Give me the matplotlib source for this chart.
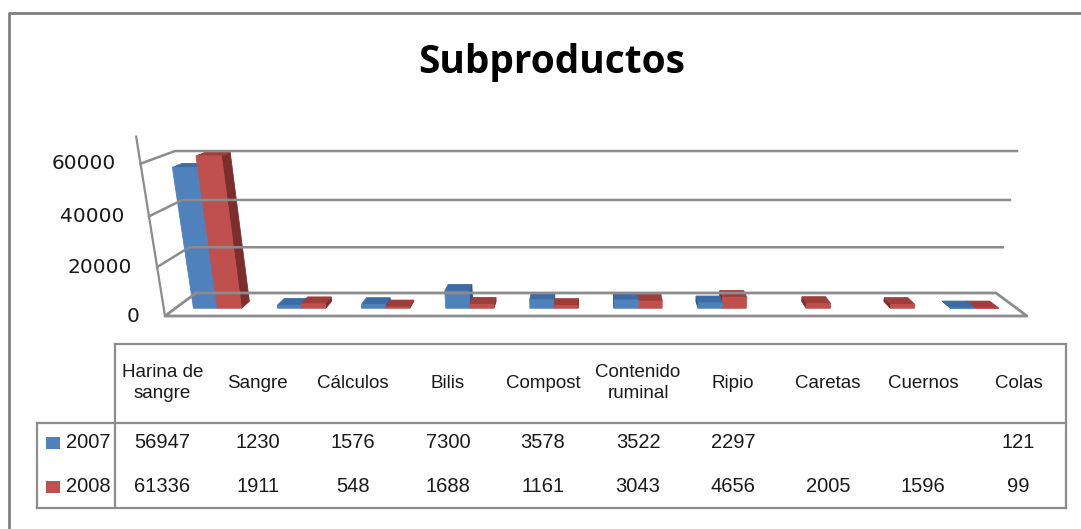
import matplotlib
matplotlib.use("Agg")
import matplotlib.pyplot as plt
from matplotlib.patches import Polygon

# datos
categorias = ["Harina de\nsangre", "Sangre", "Cálculos", "Bilis", "Compost",
              "Contenido\nruminal", "Ripio", "Caretas", "Cuernos", "Colas"]
series = ["2007", "2008"]
v2007 = [56947, 1230, 1576, 7300, 3578, 3522, 2297, None, None, 121]
v2008 = [61336, 1911, 548, 1688, 1161, 3043, 4656, 2005, 1596, 99]
ticks_y = [0, 20000, 40000, 60000]
y_max = 60000

W, H = 1081, 529
fig = plt.figure(figsize=(W / 100, H / 100), dpi=100)
ax = fig.add_axes([0, 0, 1, 1])
ax.set_xlim(0, W)
ax.set_ylim(H, 0)
ax.axis("off")

gris = "#8c8c8c"

# proyeccion en perspectiva (X: -1..1, Y: valor/y_max, Z: 0 frente .. 1 fondo)
cx, cy = 596, 316
u, v, t = 431, 144.1, 24.8
alfa, beta = 0.0775, 0.05375


def proj(X, Y, Z):
    w = 1 + alfa * Z - beta * Y
    return cx + u * X / w, cy - (v * Y + t * Z) / w


def linea(puntos, **kw):
    xs, ys = zip(*[proj(*p) for p in puntos])
    ax.plot(xs, ys, **kw)


# marco exterior
ax.plot([9, 9, W], [H, 13, 13], color="#808080", lw=2, solid_capstyle="butt")

# titulo
ax.text(552, 62, "Subproductos", ha="center", va="center",
        fontsize=28, fontweight="bold", family=["Open Sans", "DejaVu Sans"])

# lineas de division y paredes
for tv in ticks_y[1:]:
    Y = tv / y_max
    linea([(-1, Y, 0), (-1, Y, 1), (1, Y, 1)], color=gris, lw=1.8)
# suelo
linea([(-1, 0, 1), (1, 0, 1), (1, 0, 0), (-1, 0, 0), (-1, 0, 1)], color=gris, lw=2)
# eje vertical
linea([(-1, 0, 0), (-1, 70000 / y_max, 0)], color=gris, lw=1.6)

for tv in ticks_y:
    px, py = proj(-1, tv / y_max, 0)
    ax.text(px - 25, py, str(tv), ha="right", va="center", fontsize=14.5,
            family="DejaVu Sans", color="#1a1a1a")

# barras 3D
colores = {
    "2007": ("#4f81bd", "#3d6ba4", "#2f578a"),
    "2008": ("#c0504d", "#9e3d3a", "#7c2e2c"),
}
n = len(categorias)
paso = 2 / n
bw = paso / 3.5
zf, zb = 0.32, 0.62

barras = []
for i in range(n):
    c = -1 + paso * (i + 0.5)
    for k, (s, vals) in enumerate(zip(series, [v2007, v2008])):
        val = vals[i]
        if val is None:
            continue
        x0 = c - bw + k * bw
        barras.append((x0, x0 + bw, val / y_max, s))

barras.sort(key=lambda b: -abs((b[0] + b[1]) / 2))


def cara(puntos, color):
    pts = [proj(*p) for p in puntos]
    ax.add_patch(Polygon(pts, closed=True, facecolor=color, edgecolor=color, lw=0.6))


for x0, x1, h, s in barras:
    frente, arriba, lado = colores[s]
    xs = x1 if (x0 + x1) / 2 < 0 else x0
    cara([(xs, 0, zf), (xs, 0, zb), (xs, h, zb), (xs, h, zf)], lado)
    cara([(x0, h, zf), (x1, h, zf), (x1, h, zb), (x0, h, zb)], arriba)
    cara([(x0, 0, zf), (x1, 0, zf), (x1, h, zf), (x0, h, zf)], frente)

# tabla de datos
tx0, tx1 = 115, 1066
lx0 = 37
ty0, ty1, ty2 = 344, 423, 508
kw_t = dict(color=gris, lw=1.6, solid_capstyle="projecting")
ax.plot([tx0, tx1], [ty0, ty0], **kw_t)
ax.plot([tx0, tx0], [ty0, ty2], **kw_t)
ax.plot([tx1, tx1], [ty0, ty2], **kw_t)
ax.plot([lx0, tx1], [ty1, ty1], **kw_t)
ax.plot([lx0, tx1], [ty2, ty2], **kw_t)
ax.plot([lx0, lx0], [ty1, ty2], **kw_t)

fuente = ["Liberation Sans", "DejaVu Sans"]
col_w = (tx1 - tx0) / n
filas_y = [443, 487]
for i, cat in enumerate(categorias):
    xc = tx0 + col_w * (i + 0.5)
    ax.text(xc, 383, cat, ha="center", va="center", fontsize=13.5,
            family=fuente, linespacing=1.35, color="#1a1a1a")
    for vals, fy in zip([v2007, v2008], filas_y):
        if vals[i] is not None:
            ax.text(xc, fy, str(vals[i]), ha="center", va="center",
                    fontsize=14.5, family=fuente, color="#1a1a1a")

for s, fy in zip(series, filas_y):
    ax.add_patch(plt.Rectangle((46, fy - 6), 14, 12, facecolor=colores[s][0],
                               edgecolor="none"))
    ax.text(66, fy, s, ha="left", va="center", fontsize=14.5, family=fuente,
            color="#1a1a1a")

fig.savefig("out.png", dpi=100)
